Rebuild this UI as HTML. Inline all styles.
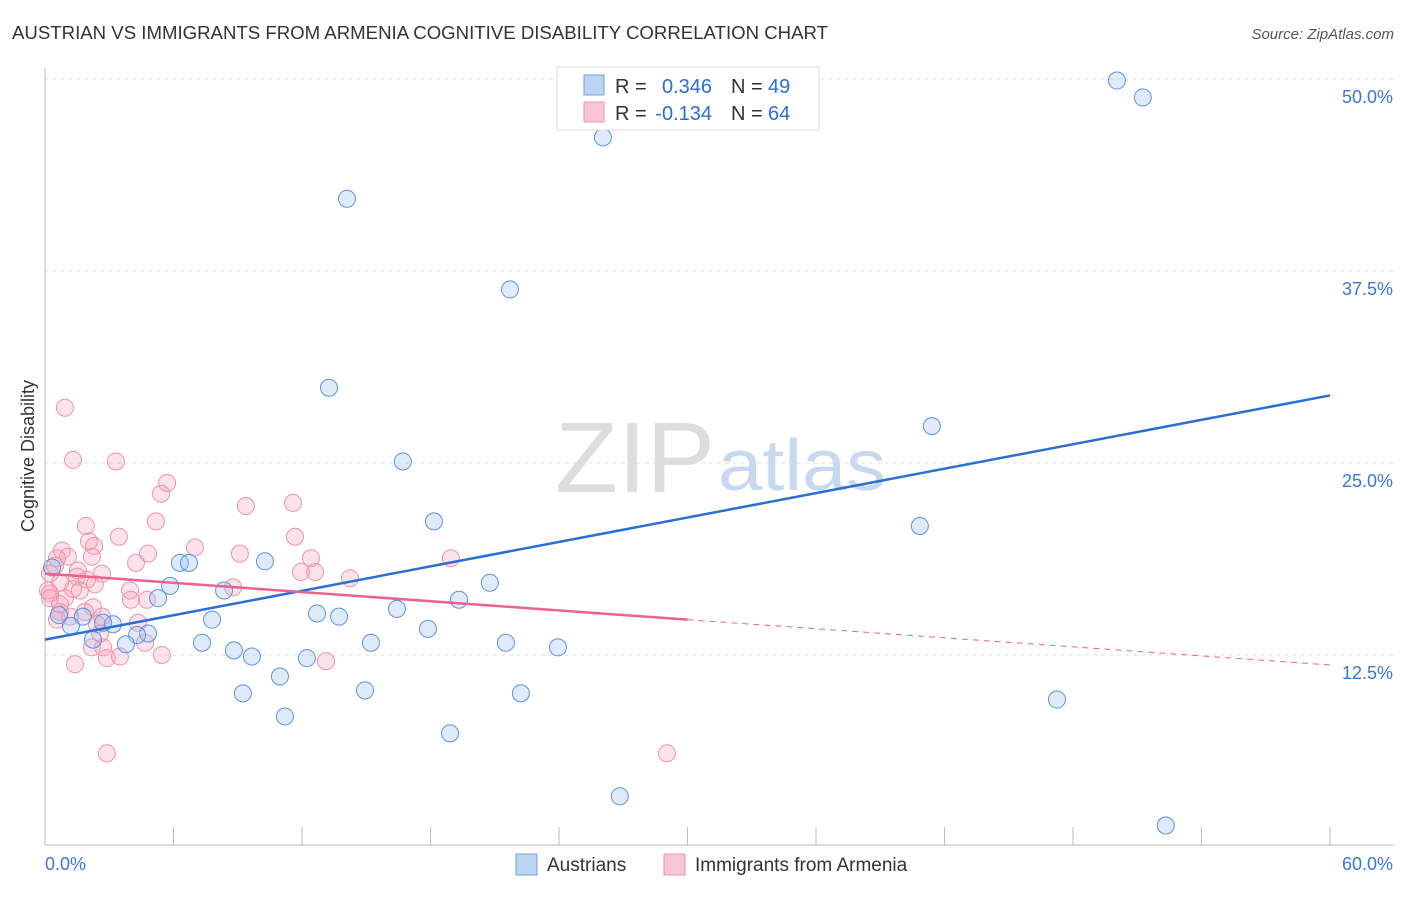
<!DOCTYPE html>
<html><head><meta charset="utf-8"><style>
body{margin:0;background:#fff;font-family:"Liberation Sans",sans-serif}
svg text{font-family:"Liberation Sans",sans-serif}
</style></head><body>
<svg id="chart" width="1406" height="892" xmlns="http://www.w3.org/2000/svg">
<text x="12" y="39" font-size="18" fill="#333" textLength="816" lengthAdjust="spacingAndGlyphs">AUSTRIAN VS IMMIGRANTS FROM ARMENIA COGNITIVE DISABILITY CORRELATION CHART</text>
<text x="1394" y="39" font-size="15" fill="#555" text-anchor="end" font-style="italic">Source: ZipAtlas.com</text>
<text x="555" y="492" font-size="100" fill="#ddd" font-family="Liberation Serif" textLength="160" lengthAdjust="spacingAndGlyphs">ZIP</text>
<text x="718" y="490" font-size="72" fill="#c8d8ef" textLength="168" lengthAdjust="spacingAndGlyphs">atlas</text>
<g id="grid"></g><g id="axes"></g><g id="pts"></g><g id="lines"></g>
<text transform="translate(34,456) rotate(-90)" font-size="18" fill="#333" text-anchor="middle">Cognitive Disability</text>
<g>
<rect x="557" y="67" width="262" height="63" fill="#fff" stroke="#ddd"/>
<rect x="584" y="75" width="20" height="20" fill="#bcd4f4" stroke="#6f9fe0"/>
<text x="615" y="93" font-size="20" fill="#333">R =</text>
<text x="712" y="93" font-size="20" fill="#2a6fd6" text-anchor="end">0.346</text>
<text x="731" y="93" font-size="20" fill="#333">N =</text>
<text x="768" y="93" font-size="20" fill="#2a6fd6">49</text>
<rect x="584" y="102" width="20" height="20" fill="#f8c6d4" stroke="#ec94ad"/>
<text x="615" y="120" font-size="20" fill="#333">R =</text>
<text x="712" y="120" font-size="20" fill="#2a6fd6" text-anchor="end">-0.134</text>
<text x="731" y="120" font-size="20" fill="#333">N =</text>
<text x="768" y="120" font-size="20" fill="#2a6fd6">64</text>
</g>
<g><rect x="516" y="854" width="21" height="21" fill="#bcd4f4" stroke="#6f9fe0"/><text x="547" y="871" font-size="19" fill="#333">Austrians</text></g>
<g><rect x="664" y="854" width="21" height="21" fill="#f8c6d4" stroke="#ec94ad"/><text x="695" y="871" font-size="19" fill="#333">Immigrants from Armenia</text></g>
</svg>
<script>
const yTicks=[12.5,25,37.5,50];
const yTickLabels=["12.5%","25.0%","37.5%","50.0%"];
const xTickLabels=["0.0%","60.0%"];
const blueX=[50.05,51.26,26.05,14.10,21.71,13.26,41.41,16.71,18.16,40.85,10.27,6.30,6.72,5.84,8.36,20.77,5.28,19.33,16.43,12.70,13.73,7.80,3.17,1.77,2.71,0.65,1.21,4.81,4.30,2.24,17.88,7.33,3.78,15.22,21.52,23.95,8.82,9.66,12.23,10.97,9.24,14.94,22.22,47.25,11.20,18.91,26.84,52.33,0.33];
const blueY=[49.9,48.8,46.2,42.2,36.3,29.9,27.4,25.1,21.2,20.9,18.6,18.5,18.5,17.0,16.7,17.2,16.2,16.1,15.5,15.2,15.0,14.8,14.5,15.0,14.6,15.1,14.4,13.9,13.8,13.5,14.2,13.3,13.2,13.3,13.3,13.0,12.8,12.4,12.3,11.1,10.0,10.2,10.0,9.6,8.5,7.4,3.3,1.4,18.2];
const pinkX=[0.93,1.31,3.31,5.70,5.42,9.38,11.58,5.18,1.91,3.45,11.67,2.05,2.29,7.00,4.81,9.10,2.19,4.25,12.42,11.95,12.61,2.66,1.07,0.56,0.23,1.49,1.96,0.70,1.31,1.63,0.23,8.78,4.01,4.76,2.24,0.70,0.56,1.17,2.66,4.34,2.43,2.19,2.71,4.67,2.89,3.50,5.46,1.40,13.12,2.89,18.95,29.04,14.24,0.14,0.23,1.87,0.93,0.47,2.57,0.70,1.54,2.33,3.97,0.79];
const pinkY=[28.6,25.2,25.1,23.7,23.0,22.2,22.4,21.2,20.9,20.2,20.2,19.9,19.6,19.5,19.1,19.1,18.9,18.5,18.8,17.9,17.9,17.8,18.9,18.8,17.8,17.6,17.4,17.2,16.8,16.7,16.5,16.9,16.1,16.1,15.6,15.3,14.8,15.0,15.0,14.6,14.5,13.0,13.0,13.3,12.3,12.4,12.5,11.9,12.1,6.1,18.8,6.1,17.5,16.7,16.2,15.3,16.2,18.3,13.9,15.8,18.0,17.1,16.7,19.3];
const blueLine=[13.5,29.4];
const pinkLine=[17.8,14.8,11.85];
const NS="http://www.w3.org/2000/svg";
const X=v=>45+v*(1285/60), Y=v=>847-v*15.36;
function mk(p,t,a){const e=document.createElementNS(NS,t);for(const k in a)e.setAttribute(k,a[k]);document.getElementById(p).appendChild(e);return e;}
yTicks.forEach((t,i)=>{
 const g=mk('grid','line',{x1:45,x2:1393,y1:Y(t),y2:Y(t),stroke:'#ddd','stroke-dasharray':'4,4'});
 
 
 const l=mk('axes','text',{x:1393,y:Y(t)+24,'font-size':18,fill:'#3a78d6','text-anchor':'end'});
 l.textContent=yTickLabels[i];
 
 
});
const ax=mk('axes','line',{x1:45,x2:1393,y1:845,y2:845,stroke:'#bbb'});


const ay=mk('axes','line',{x1:45,x2:45,y1:68,y2:845,stroke:'#bbb'});


for(let v=6;v<=60;v+=6){const t=mk('axes','line',{x1:X(v),x2:X(v),y1:827,y2:845,stroke:'#bbb'});
 
 }
[[0,'start',45],[60,'end',1393]].forEach((d,i)=>{const t=mk('axes','text',{x:d[2],y:870,'font-size':18,fill:'#3a78d6','text-anchor':d[1]});t.textContent=xTickLabels[i];
 
 });
pinkX.forEach((x,i)=>{const c=mk('pts','circle',{cx:X(x),cy:Y(pinkY[i]),r:8.5,fill:'rgba(244,160,185,0.3)',stroke:'#ec94ad','stroke-width':1});
 
 });
blueX.forEach((x,i)=>{const c=mk('pts','circle',{cx:X(x),cy:Y(blueY[i]),r:8.5,fill:'rgba(150,190,240,0.3)',stroke:'#5d93dc','stroke-width':1});
 
 });
const bl=mk('lines','line',{x1:X(0),y1:Y(blueLine[0]),x2:X(60),y2:Y(blueLine[1]),stroke:'#2a6fd6','stroke-width':2.5});


const pl=mk('lines','line',{x1:X(0),y1:Y(pinkLine[0]),x2:X(30),y2:Y(pinkLine[1]),stroke:'#e8648e','stroke-width':2.5});


const pd=mk('lines','line',{x1:X(30),y1:Y(pinkLine[1]),x2:X(60),y2:Y(pinkLine[2]),stroke:'#e8648e','stroke-width':1,'stroke-dasharray':'6,5'});


</script>
</body></html>
